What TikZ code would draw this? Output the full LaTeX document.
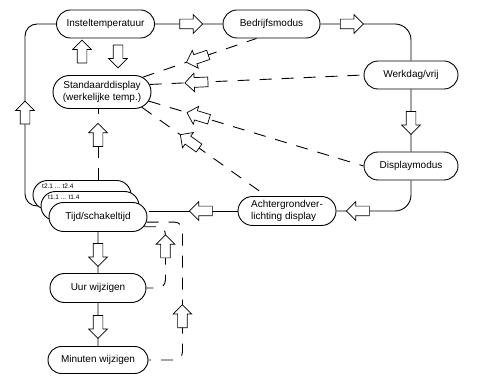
\documentclass[tikz,border=0pt]{standalone}
\usepackage{fontspec}
\setmainfont{Liberation Sans}
\usetikzlibrary{shapes.misc,shapes.arrows,backgrounds}

\tikzset{
  state/.style={rounded rectangle, draw, fill=white, line width=0.9pt,
    minimum width=100pt, minimum height=28pt, inner sep=1pt,
    font=\fontsize{10}{12}\selectfont},
  blk/.style={single arrow, draw, fill=white, line width=0.7pt, solid, sharp corners,
    minimum height=23pt, minimum width=18pt, single arrow head extend=4.5pt,
    inner xsep=0pt, inner ysep=4.5pt},
  sublabel/.style={font=\fontsize{6.5}{7}\selectfont, inner sep=0pt},
  link/.style={line width=0.9pt},
  dlink/.style={line width=0.9pt, dash pattern=on 12pt off 10pt},
}

\begin{document}
\begin{tikzpicture}[x=1pt,y=-1pt]
\useasboundingbox (0,0) rectangle (477,382);
% modes
\node[state] (instel) at (105.5,24) {Insteltemperatuur};
\node[state,minimum width=99pt] (bedrijf) at (271.5,24) {Bedrijfsmodus};
\node[state,minimum width=96pt] (werkdag) at (411,75) {Werkdag/vrij};
\node[state,minimum width=96pt] (display) at (411,166) {Displaymodus};
\node[state,minimum height=29pt,align=left] (achter) at (287,211) {Achtergrondver-\\lichting display};
\node[state,minimum height=33pt,align=center] (standaard) at (102,92) {Standaarddisplay\\(werkelijke temp.)};
% stacked switching times
\node[state,minimum height=29pt] (tijdb) at (82,195) {};
\node[sublabel,anchor=west] (tb) at (42,186.5) {t2.1 ... t2.4};
\node[state,minimum height=29pt] (tijda) at (90,206) {};
\node[sublabel,anchor=west] (ta) at (48,197.5) {t1.1 ... t1.4};
\node[state,minimum height=29pt] (tijd) at (98,217) {Tijd/schakeltijd};
\node[state,minimum width=98pt,minimum height=29pt] (uur) at (98,288) {Uur wijzigen};
\node[state,minimum width=102pt,minimum height=27pt] (minuten) at (98,360) {Minuten wijzigen};
\coordinate (hoek) at (25,24);

% main loop
\draw[link] (instel) -- node[blk,midway] (p1) {} (bedrijf);
\draw[link,rounded corners=16pt] (bedrijf) -| node[blk,pos=0.16] (p2) {} (werkdag);
\draw[link] (werkdag) -- node[blk,midway,rotate=-90] (p3) {} (display);
\draw[link,rounded corners=16pt] (display) |- node[blk,pos=0.84,rotate=180] (p4) {} (achter);
\draw[link,shorten >=1.5pt] (achter.west) -- node[blk,pos=0.38,rotate=180] (p5) {} (tijd.east |- achter.west);
\begin{scope}[on background layer]
\draw[link,rounded corners=12pt] (tijda.west) -| node[blk,pos=0.75,rotate=90] (p6) {} (hoek) -- (instel.west);
\end{scope}

% up/down between setpoint and standard display
\node[blk,rotate=90] (p7) at (82,54) {};
\node[blk,rotate=-90] (p8) at (118,54) {};

% time setting
\draw[link] (tijd) -- node[blk,midway,rotate=-90] (p9) {} (uur);
\draw[link] (uur) -- node[blk,midway,rotate=-90] (p10) {} (minuten);
\draw[dlink,rounded corners=8pt] (tijd.-12) -| node[blk,pos=0.68,rotate=90] (p11) {} ([xshift=19pt]uur.east) -- (uur.east);
\draw[dlink,rounded corners=8pt] (tijd.-6) -| node[blk,pos=0.85,rotate=90] (p12) {} ([xshift=34pt]minuten.east) -- (minuten.east);
\draw[dlink] (tijd.north |- tijdb.north) -- node[blk,pos=0.6,rotate=90] (p13) {} (tijd.north |- standaard.south);

% back to standard display
\draw[dlink] (standaard.20) -- node[blk,sloped,pos=0.5,rotate=180] (q1) {} (bedrijf.224);
\draw[dlink] (standaard.9) -- node[blk,sloped,pos=0.23,rotate=180] (q2) {} (werkdag.west);
\draw[dlink] (standaard.-11) -- node[blk,sloped,pos=0.24,rotate=180] (q3) {} (display.west);
\draw[dlink] (standaard.-21) -- node[blk,sloped,pos=0.4,rotate=180] (q4) {} (achter.144);
\end{tikzpicture}
\end{document}
